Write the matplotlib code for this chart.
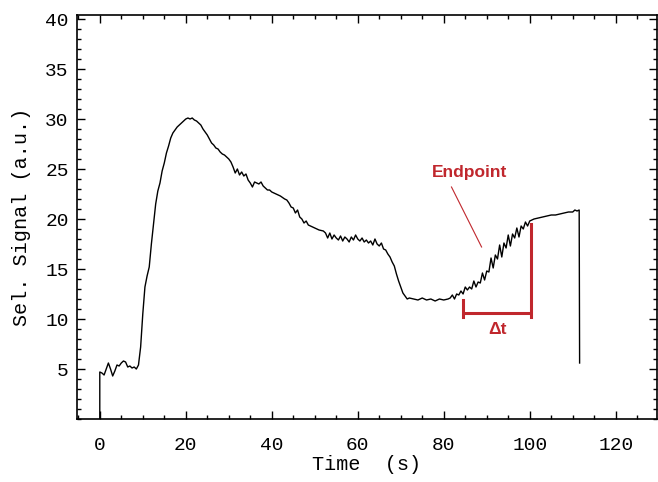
import matplotlib
matplotlib.use("Agg")
import matplotlib.pyplot as plt
from matplotlib.ticker import MultipleLocator

# Selective signal trace (time in s, signal in a.u.)
time_s = [0.0, 0.0, 0.5, 1.0, 1.5, 2.0, 2.5, 3.0, 3.5, 4.0, 4.5, 5.0, 5.5, 6.0, 6.5,
          7.0, 7.5, 8.0, 8.5, 9.0, 9.5, 10.0, 10.5, 11.0, 11.5, 12.0, 12.5, 13.0,
          13.5, 14.0, 14.5, 15.0, 15.5, 16.0, 16.5, 17.0, 17.5, 18.0, 18.5, 19.0,
          19.5, 20.0, 20.5, 21.0, 21.5, 22.0, 22.5, 23.0, 23.5, 24.0, 24.5, 25.0,
          25.5, 26.0, 26.5, 27.0, 27.5, 28.0, 28.5, 29.0, 29.5, 30.0, 30.5, 31.0,
          31.5, 32.0, 32.5, 33.0, 33.5, 34.0, 34.5, 35.0, 35.5, 36.0, 36.5, 37.0,
          37.5, 38.0, 38.5, 39.0, 39.5, 40.0, 41.0, 42.0, 43.0, 43.5, 44.0, 44.5,
          45.0, 45.5, 46.0, 46.5, 47.0, 47.5, 48.0, 48.5, 49.0, 50.0, 51.0, 52.0,
          52.5, 53.0, 53.5, 54.0, 54.5, 55.0, 55.5, 56.0, 56.5, 57.0, 57.5, 58.0,
          58.5, 59.0, 59.5, 60.0, 60.5, 61.0, 61.5, 62.0, 62.5, 63.0, 63.5, 64.0,
          64.5, 65.0, 65.5, 66.0, 66.5, 67.0, 67.5, 68.0, 68.5, 69.0, 69.5, 70.0,
          70.5, 71.0, 71.5, 72.0, 73.0, 74.0, 75.0, 76.0, 77.0, 78.0, 79.0, 80.0,
          81.0, 81.5, 82.0, 82.5, 83.0, 83.5, 84.0, 84.5, 85.0, 85.5, 86.0, 86.5,
          87.0, 87.5, 88.0, 88.5, 89.0, 89.5, 90.0, 90.5, 91.0, 91.5, 92.0, 92.5,
          93.0, 93.5, 94.0, 94.5, 95.0, 95.5, 96.0, 96.5, 97.0, 97.5, 98.0, 98.5,
          99.0, 99.5, 100.0, 101.0, 102.0, 103.0, 104.0, 105.0, 106.0, 107.0,
          108.0, 109.0, 110.0, 110.5, 111.0, 111.5, 111.6]
signal = [0.0, 4.7, 4.6, 4.4, 5.0, 5.6, 5.0, 4.3, 4.8, 5.4, 5.3, 5.6, 5.8, 5.7, 5.2,
          5.3, 5.1, 5.2, 5.0, 5.4, 7.2, 10.5, 13.2, 14.3, 15.2, 17.5, 19.5, 21.5,
          22.8, 23.6, 24.8, 25.6, 26.6, 27.3, 28.1, 28.6, 28.9, 29.2, 29.4, 29.6,
          29.8, 30.0, 30.1, 30.0, 30.1, 29.9, 29.8, 29.6, 29.4, 29.0, 28.7, 28.4,
          28.0, 27.6, 27.4, 27.1, 27.0, 26.7, 26.5, 26.4, 26.2, 26.0, 25.7, 25.2,
          24.6, 25.0, 24.4, 24.7, 24.3, 24.5, 23.9, 23.6, 23.2, 23.7, 23.6, 23.5,
          23.7, 23.3, 23.1, 22.9, 22.9, 22.7, 22.5, 22.3, 22.0, 21.9, 21.6, 21.2,
          21.1, 20.6, 20.9, 20.2, 20.0, 19.6, 19.8, 19.4, 19.3, 19.1, 18.9, 18.8,
          18.6, 18.1, 18.6, 18.0, 18.4, 18.1, 17.9, 18.3, 17.8, 18.2, 18.0, 17.7,
          18.2, 17.9, 18.4, 18.0, 17.8, 18.1, 17.7, 17.9, 17.6, 17.8, 17.4, 18.0,
          17.5, 17.3, 17.6, 17.0, 16.9, 16.5, 16.2, 15.7, 15.3, 14.5, 13.8, 13.2,
          12.6, 12.3, 12.0, 12.1, 12.0, 11.9, 12.1, 11.9, 12.0, 11.8, 12.0, 11.9,
          12.0, 12.1, 12.4, 12.0, 12.5, 12.4, 12.8, 12.5, 13.2, 12.9, 13.2, 13.0,
          13.8, 13.2, 13.7, 13.6, 14.6, 13.9, 14.8, 14.7, 16.1, 15.1, 16.4, 16.0,
          17.4, 16.2, 17.6, 17.1, 18.4, 17.3, 18.5, 18.1, 19.1, 18.2, 19.3, 19.0,
          19.7, 19.3, 19.8, 20.0, 20.1, 20.2, 20.3, 20.4, 20.4, 20.5, 20.6, 20.7,
          20.7, 20.9, 20.8, 20.9, 5.6]

# Endpoint annotation and Δt interval
endpoint_label = "Endpoint"
endpoint_text_xy = (86.0, 24.7)
endpoint_pointer = [(81.8, 23.2), (88.8, 17.2)]
dt_start, dt_end = 84.5, 100.4
dt_level = 10.6
dt_start_top, dt_end_top = 11.9, 19.5
dt_bottom = 10.2
dt_label = "Δt"
dt_label_xy = (92.6, 8.9)

x_major, x_minor = 20, 5
y_major, y_minor = 5, 1

red = "#c0272d"
mono = ["Liberation Mono", "DejaVu Sans Mono"]

fig = plt.figure(figsize=(6.58, 4.82), dpi=100)
ax = fig.add_axes([77 / 658, 1 - 419 / 482, 580 / 658, 404 / 482])

ax.plot(time_s, signal, color="black", lw=1.0)

# annotation
ax.text(*endpoint_text_xy, endpoint_label, color=red, fontsize=12.5,
        fontweight="bold", family="Liberation Sans", ha="center", va="center")
ax.plot([p[0] for p in endpoint_pointer], [p[1] for p in endpoint_pointer],
        color=red, lw=0.8)
ax.plot([dt_start, dt_end], [dt_level, dt_level], color=red, lw=2.2,
        solid_capstyle="butt")
ax.plot([dt_start, dt_start], [dt_bottom, dt_start_top], color=red, lw=2.2)
ax.plot([dt_end, dt_end], [dt_bottom, dt_end_top], color=red, lw=2.2)
ax.text(*dt_label_xy, dt_label, color=red, fontsize=12.5, fontweight="bold",
        family="Liberation Sans", ha="center", va="center")

ax.set_xlim(-5.3, 129.6)
ax.set_ylim(0, 40.4)
ax.xaxis.set_major_locator(MultipleLocator(x_major))
ax.xaxis.set_minor_locator(MultipleLocator(x_minor))
ax.yaxis.set_major_locator(MultipleLocator(y_major))
ax.yaxis.set_minor_locator(MultipleLocator(y_minor))
ax.set_yticks([5, 10, 15, 20, 25, 30, 35, 40])

ax.tick_params(which="both", direction="in", top=True, right=True,
               width=1.0, colors="black")
ax.tick_params(which="major", length=6, labelsize=14)
ax.tick_params(axis="x", which="major", pad=13)
ax.tick_params(axis="y", which="major", pad=6)
ax.tick_params(which="minor", length=3)
for lab in ax.get_xticklabels() + ax.get_yticklabels():
    lab.set_family(mono)
for s in ax.spines.values():
    s.set_linewidth(1.2)

ax.set_xlabel("Time  (s)", family=mono, fontsize=14.5, labelpad=1)
ax.set_ylabel("Sel. Signal (a.u.)", family=mono, fontsize=14.5, labelpad=10)

fig.savefig("out.png", dpi=100)
